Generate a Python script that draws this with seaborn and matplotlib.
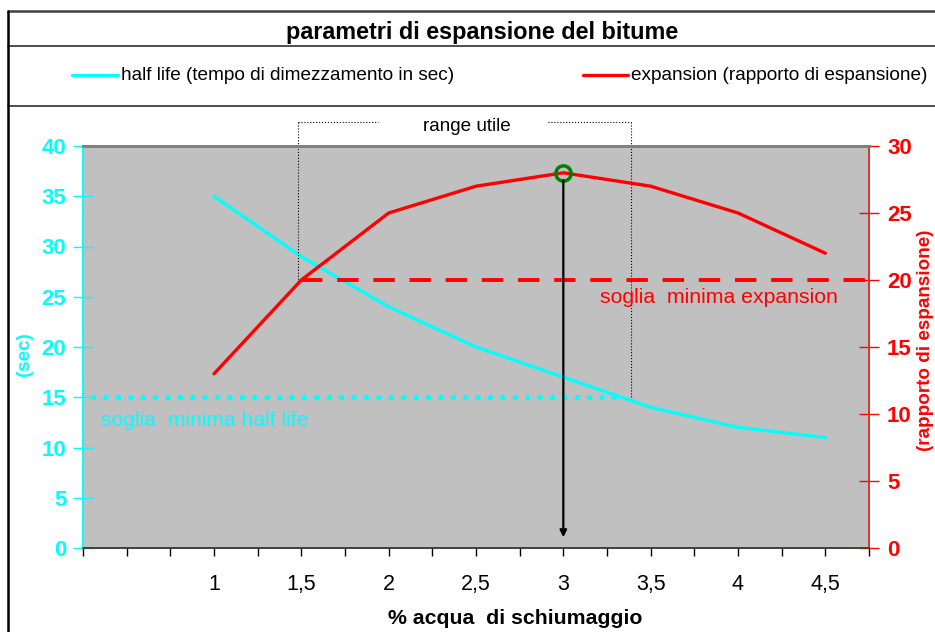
import numpy as np
import pandas as pd
import matplotlib
matplotlib.use("Agg")
import matplotlib.pyplot as plt
from matplotlib.lines import Line2D
import seaborn as sns

# ---- data ----
acqua = [1.0, 1.5, 2.0, 2.5, 3.0, 3.5, 4.0, 4.5]
half_life = [35, 29, 24, 20, 17, 14, 12, 11]
expansion = [13, 20, 25, 27, 28, 27, 25, 22]
x_tick_pos = [1.0, 1.5, 2.0, 2.5, 3.0, 3.5, 4.0, 4.5]
x_tick_labels = ["1", "1,5", "2", "2,5", "3", "3,5", "4", "4,5"]
left_ticks = [0, 5, 10, 15, 20, 25, 30, 35, 40]
right_ticks = [0, 5, 10, 15, 20, 25, 30]
soglia_half_life = 15
soglia_expansion = 20
punto_ottimo = (3.0, 28)

title = "parametri di espansione del bitume"
lab_hl = "half life (tempo di dimezzamento in sec)"
lab_ex = "expansion (rapporto di espansione)"

df = pd.DataFrame({"acqua": acqua, "half_life": half_life, "expansion": expansion})

sns.set_theme(style="white")
plt.rcParams["font.family"] = ["Liberation Sans", "DejaVu Sans"]

CYAN = "#00FFFF"
RED = "#FF0000"
W, H = 935, 632
fig = plt.figure(figsize=(W / 100, H / 100), dpi=100, facecolor="white")

def fx(px):
    return px / W

def fy(py):
    return 1 - py / H

ax = fig.add_axes([fx(83), fy(548), fx(869 - 83), (548 - 146) / H])
ax.set_facecolor("#C0C0C0")
ax2 = ax.twinx()
ax2.patch.set_visible(False)

sns.lineplot(data=df, x="acqua", y="half_life", ax=ax, color=CYAN, lw=2.4, legend=False)
sns.lineplot(data=df, x="acqua", y="expansion", ax=ax2, color=RED, lw=2.4, legend=False)

ax.set_xlim(0.25, 4.75)
ax.set_ylim(0, 40)
ax2.set_ylim(0, 30)
ax.set_xlabel("")
ax.set_ylabel("")
ax2.set_ylabel("")
ax.grid(False)
ax2.grid(False)

# x axis
ax.set_xticks(x_tick_pos)
ax.set_xticklabels(x_tick_labels, fontsize=15.5, color="black")
ax.set_xticks(np.arange(0.25, 4.76, 0.25), minor=True)
ax.tick_params(axis="x", which="both", direction="out", length=6, width=1,
               color="black", bottom=True, pad=13)

# left y
ax.set_yticks(left_ticks)
ax.set_yticklabels([str(v) for v in left_ticks], fontsize=16, fontweight="bold", color=CYAN)
ax.tick_params(axis="y", direction="inout", length=14, width=1, color=CYAN, left=True, pad=5)
# right y
ax2.set_yticks(right_ticks)
ax2.set_yticklabels([str(v) for v in right_ticks], fontsize=16, fontweight="bold", color=RED)
ax2.tick_params(axis="y", direction="inout", length=14, width=1, color=RED, right=True, pad=6)

for a in (ax, ax2):
    a.spines["top"].set_color("#808080")
    a.spines["top"].set_linewidth(2)
    a.spines["bottom"].set_color("#404040")
    a.spines["left"].set_color(CYAN)
    a.spines["right"].set_color("#E03030")
    a.spines["left"].set_linewidth(1.2)
    a.spines["right"].set_linewidth(1.2)

# thresholds
ax.plot([0.306, 3.357], [soglia_half_life] * 2, color=CYAN, lw=3.8,
        linestyle=(0, (0.05, 2.3)), dash_capstyle="round", solid_capstyle="round")
ax2.plot([1.5, 4.75], [soglia_expansion] * 2, color=RED, lw=2.8,
         linestyle=(0, (5.5, 3.8)), clip_on=False)
ax2.text(3.21, 18.66, "soglia  minima expansion", color=RED, fontsize=15.3,
         ha="left", va="center")
ax.text(0.352, 12.7, "soglia  minima half life", color=CYAN, fontsize=15.2,
        ha="left", va="center")

# range utile
ytop = 42.4
ax.plot([1.48, 1.48], [ytop, 26.6], color="black", lw=0.8, ls=":", clip_on=False)
ax.plot([3.39, 3.39], [ytop, 14.9], color="black", lw=0.8, ls=":", clip_on=False)
ax.plot([1.48, 1.94], [ytop, ytop], color="black", lw=0.8, ls=":", clip_on=False)
ax.plot([2.915, 3.39], [ytop, ytop], color="black", lw=0.8, ls=":", clip_on=False)
ax.text(2.45, 41.9, "range utile", color="black", fontsize=13.6, ha="center",
        va="center", clip_on=False)

# optimum marker and arrow
ax2.annotate("", xy=(punto_ottimo[0], 0.8), xytext=(punto_ottimo[0], 27.45),
             arrowprops=dict(arrowstyle="-|>", color="black", lw=1.6,
                             mutation_scale=10, shrinkA=0, shrinkB=0))
ax2.plot([punto_ottimo[0]], [punto_ottimo[1]], marker="o", ms=11, mfc="none",
         mec="#008000", mew=2.5, clip_on=False)

# axis titles
fig.text(fx(25), fy(354), "(sec)", color=CYAN, fontsize=13.6, fontweight="bold",
         rotation=90, ha="center", va="center")
fig.text(fx(925), fy(340), "(rapporto di espansione)", color=RED, fontsize=13.6,
         fontweight="bold", rotation=90, ha="center", va="center")
fig.text(fx(515), fy(618), "% acqua  di schiumaggio", color="black", fontsize=15.3,
         fontweight="bold", ha="center", va="center")

# title & legend boxes
fig.text(fx(482), fy(33), title, color="black", fontsize=16.8, fontweight="bold",
         ha="center", va="center")
for (px0, px1, col, txt) in [(72, 118, CYAN, lab_hl), (583, 628, RED, lab_ex)]:
    fig.add_artist(Line2D([fx(px0), fx(px1)], [fy(75), fy(75)], color=col, lw=2.4,
                          transform=fig.transFigure))
    fig.text(fx(px1 + 3), fy(75), txt, color="black", fontsize=13.7, ha="left", va="center")

for py in (11, 46, 106):
    fig.add_artist(Line2D([fx(8), 1.0], [fy(py), fy(py)], color="#404040",
                          lw=1.3 if py != 11 else 1.8, transform=fig.transFigure))
fig.add_artist(Line2D([fx(8), fx(8)], [fy(11), 0.0], color="black", lw=1.8,
                      transform=fig.transFigure))

fig.savefig("out.png", dpi=100, facecolor="white")
